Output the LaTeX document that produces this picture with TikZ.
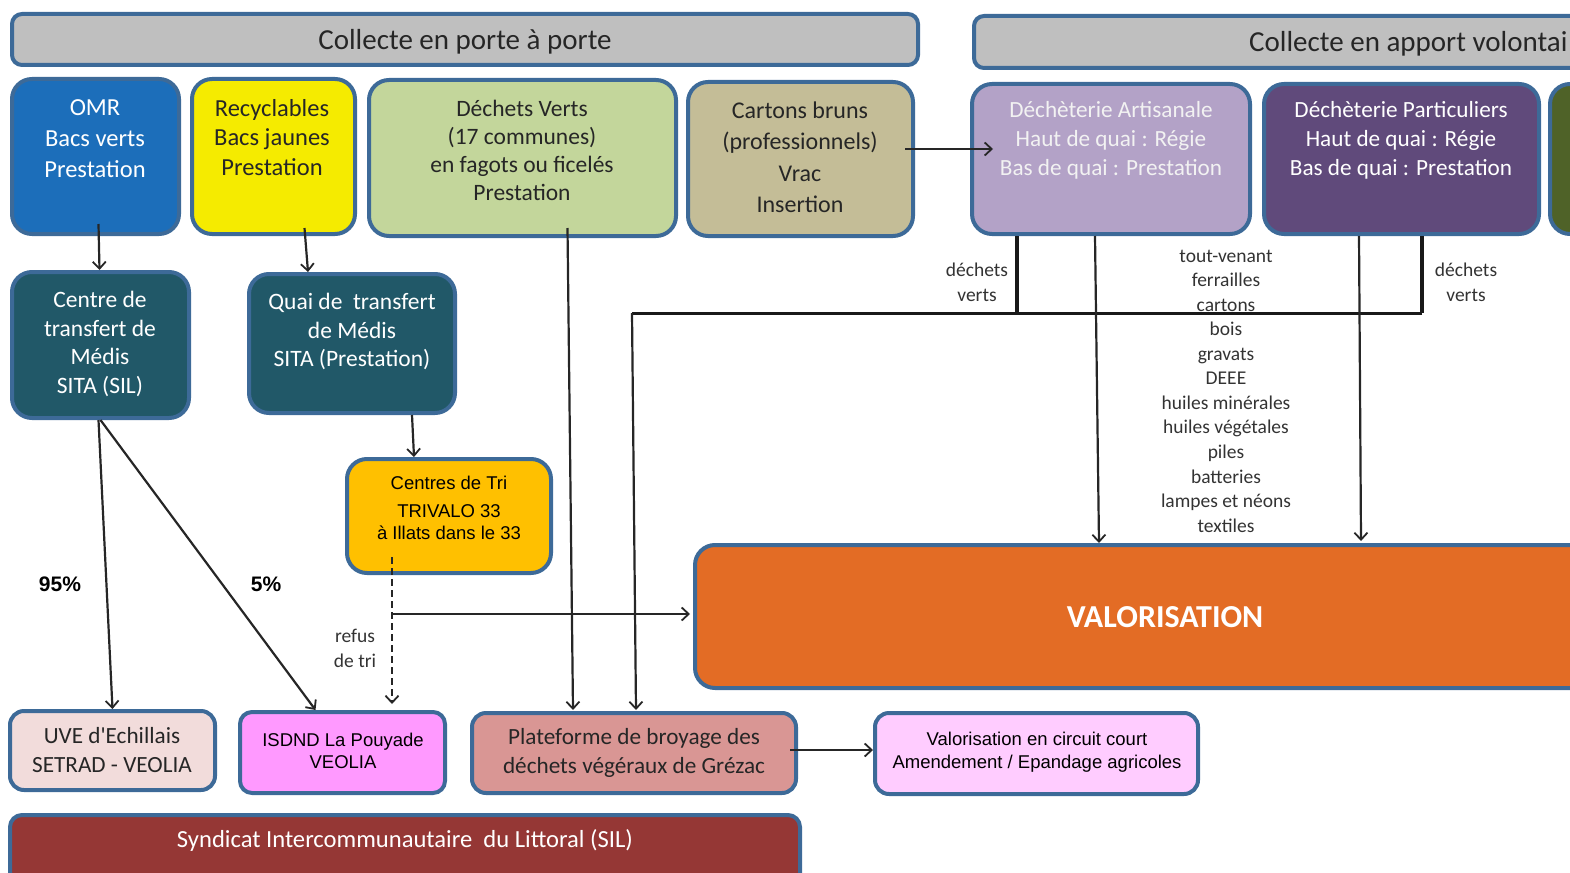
\documentclass[tikz,border=0pt]{standalone}
\usepackage{fontspec}
\setmainfont{Carlito}
\newfontfamily\arialf{Liberation Sans}
\usetikzlibrary{arrows.meta,calc}
\definecolor{bordc}{HTML}{3D6A98}
\definecolor{hgray}{HTML}{BFBFBF}
\definecolor{omrc}{HTML}{1C6EBA}
\definecolor{recc}{HTML}{F5EB00}
\definecolor{dvc}{HTML}{C3D69B}
\definecolor{cartc}{HTML}{C4BD97}
\definecolor{artc}{HTML}{B3A2C7}
\definecolor{partc}{HTML}{604A7B}
\definecolor{olivec}{HTML}{4F6228}
\definecolor{tealc}{HTML}{215868}
\definecolor{tric}{HTML}{FFC000}
\definecolor{valoc}{HTML}{E36C25}
\definecolor{uvec}{HTML}{F2DCDB}
\definecolor{isdc}{HTML}{FF99FF}
\definecolor{platc}{HTML}{D99694}
\definecolor{vccc}{HTML}{FFCCFF}
\definecolor{sync}{HTML}{953735}
\definecolor{darkt}{HTML}{262626}
\definecolor{listc}{HTML}{333333}
\tikzset{
  box/.style={draw=bordc, line width=4pt, rounded corners=20pt, inner sep=0pt},
  txt/.style={align=center, inner sep=0pt, font=\fontsize{23.2}{29}\selectfont},
  arr/.style={-{Straight Barb[length=7pt,width=13pt,line width=1.8pt]}, line width=2.2pt, draw=black!85},
  small/.style={align=center, inner sep=0pt, font=\fontsize{19.5}{24.5}\selectfont, text=listc},
  arialtxt/.style={align=center, inner sep=0pt, font=\arialf\fontsize{18.5}{22}\selectfont, text=black},
  pct/.style={inner sep=0pt, font=\arialf\bfseries\fontsize{21}{25}\selectfont, text=black},
}
\begin{document}
\begin{tikzpicture}[x=1pt,y=-1pt]
\useasboundingbox (0,0) rectangle (1570,872);
\clip (0,0) rectangle (1570,872);
% headers
\node[box, fill=hgray, minimum width=906pt, minimum height=51pt, rounded corners=10pt] (h1) at (465,39.5) {};
\node[box, fill=hgray, minimum width=640pt, minimum height=52pt, rounded corners=10pt] (h2) at (1294,42) {};
% top row
\node[box, fill=omrc, minimum width=167pt, minimum height=155pt] (omr) at (95.5,156.5) {};
\node[box, fill=recc, minimum width=163pt, minimum height=155pt] (rec) at (273.5,156.5) {};
\node[box, fill=dvc, minimum width=307pt, minimum height=156pt] (dv) at (522.5,158) {};
\node[box, fill=cartc, minimum width=225pt, minimum height=154pt] (cart) at (800.5,159) {};
\node[box, fill=artc, minimum width=278pt, minimum height=150pt] (art) at (1111,159) {};
\node[box, fill=partc, minimum width=275pt, minimum height=150pt] (part) at (1401.5,159) {};
\node[box, fill=olivec, minimum width=80pt, minimum height=150pt] (olive) at (1590,159) {};
% second row
\node[box, fill=tealc, minimum width=177pt, minimum height=146pt] (ctm) at (100.5,345) {};
\node[box, fill=tealc, minimum width=206pt, minimum height=139pt] (quai) at (352,343.5) {};
\node[box, fill=tric, minimum width=204pt, minimum height=114pt] (tri) at (449,516) {};
\node[box, fill=valoc, minimum width=925pt, minimum height=143pt] (valo) at (1157.5,616.5) {};
% bottom row
\node[box, fill=uvec, minimum width=205pt, minimum height=79pt, rounded corners=14pt] (uve) at (112.5,750.5) {};
\node[box, fill=isdc, minimum width=205pt, minimum height=81pt, rounded corners=12pt] (isd) at (342.5,752.5) {};
\node[box, fill=platc, minimum width=324pt, minimum height=80pt, rounded corners=14pt] (plat) at (634,753) {};
\node[box, fill=vccc, minimum width=323pt, minimum height=81pt, rounded corners=14pt] (vcc) at (1036.5,753.5) {};
\node[box, fill=sync, minimum width=790pt, minimum height=85pt, rounded corners=12pt] (syn) at (405,857.5) {};
% connectors
\draw[arr] ($(omr.south)+(3,-12)$) -- ($(ctm.north)+(-1,0)$);
\draw[arr] ($(rec.south)+(31,-8)$) -- ($(quai.north)+(-44,0)$);
\draw[arr] ($(quai.south)+(60,0)$) -- ($(tri.north)+(-35,0)$);
\draw[arr] ($(ctm.south)+(-2,0)$) -- (uve.north);
\draw[arr] (ctm.south) -- ($(isd.north)+(-27,0)$);
\draw[arr, dashed, dash pattern=on 7pt off 4pt] ($(tri.south)+(-57,-18)$) -- ($(isd.north)+(49.5,-6)$);
\coordinate (tj) at ($(tri.south)+(-57,39)$);
\draw[arr] (tj) -- ($(valo.west |- tj)+(-3,0)$);
\draw[arr] ($(dv.south)+(45,-10)$) -- ($(plat.north)+(-61,-1)$);
\coordinate (bl) at ($(plat.north)+(-2,-398)$);
\coordinate (br) at ($(part.south)+(20.5,77)$);
\draw[line width=3.5pt, draw=black!90] ($(art.south)+(-94,0)$) -- ($(art.south)+(-94,77)$);
\draw[line width=3.5pt, draw=black!90] ($(part.south)+(20.5,0)$) -- (br);
\draw[line width=3pt, draw=black!90] (br) -- (bl);
\draw[arr] (bl) -- ($(plat.north)+(2,-1)$);
\draw[arr] ($(art.south)+(-16,0)$) -- ($(valo.north)+(-58.5,0)$);
\draw[arr] ($(part.south)+(-42.5,0)$) -- ($(valo.north)+(203.5,-2)$);
\draw[arr] ($(cart.east)+(-10,-10)$) -- ($(art.west)+(23,-10)$);
\draw[arr] ($(plat.east)+(-8,-3)$) -- ($(vcc.west)+(0,-3.5)$);
% texts
\node[txt, text=darkt, font=\fontsize{29}{34}\selectfont] (h1t) at (465,42) {Collecte en porte à porte};
\node[txt, text=darkt, font=\fontsize{29}{34}\selectfont, anchor=west] (h2t) at (1249,44) {Collecte en apport volontai};
\node[txt, text=white, font=\fontsize{24.5}{31}\selectfont] (omrt) at (95,139) {OMR\\Bacs verts\\Prestation};
\node[txt, text=darkt, font=\fontsize{24.5}{29.5}\selectfont] (rect) at (272,137.5) {Recyclables\\Bacs jaunes\\Prestation};
\node[txt, text=darkt, font=\fontsize{23.5}{28}\selectfont] (dvt) at (522,150) {Déchets Verts\\(17 communes)\\en fagots ou ficelés\\Prestation};
\node[txt, text=darkt, font=\fontsize{24}{31.5}\selectfont] (cartt) at (800,157.5) {Cartons bruns\\(professionnels)\\Vrac\\Insertion};
\node[txt, text=white!95!black] (artt) at (1111,140.5) {Déchèterie Artisanale\\Haut de quai : Régie\\Bas de quai : Prestation};
\node[txt, text=white] (partt) at (1401,140.5) {Déchèterie Particuliers\\Haut de quai : Régie\\Bas de quai : Prestation};
\node[txt, text=white, font=\fontsize{23.5}{28.7}\selectfont] (ctmt) at (100,344) {Centre de\\transfert de\\Médis\\SITA (SIL)};
\node[txt, text=white, font=\fontsize{23.5}{28.5}\selectfont] (quait) at (352,331.5) {Quai de\ \ transfert\\de Médis\\SITA (Prestation)};
\node[arialtxt] (trit) at (449,508) {Centres de Tri\\[6pt]TRIVALO 33\\à Illats dans le 33};
\node[txt, text=white, font=\bfseries\fontsize{32}{36}\selectfont] (valot) at (1165,617) {VALORISATION};
\node[txt, text=darkt] (uvet) at (112,750.5) {UVE d\textquotesingle Echillais\\SETRAD - VEOLIA};
\node[arialtxt] (isdt) at (343,751) {ISDND La Pouyade\\VEOLIA};
\node[txt, text=darkt] (platt) at (634,752.5) {Plateforme de broyage des\\déchets végéraux de Grézac};
\node[arialtxt, font=\arialf\fontsize{18.5}{23}\selectfont] (vcct) at (1037,752.5) {Valorisation en circuit court\\Amendement / Epandage agricoles};
\node[txt, text=white, font=\fontsize{24.6}{29}\selectfont] (synt) at (405,840) {Syndicat Intercommunautaire\ \ du Littoral (SIL)};
\node[pct] (p95) at (60,584) {95\%};
\node[pct] (p5) at (266,584) {5\%};
\node[small] (refus) at (355,648.5) {refus\\de tri};
\node[small] (dvl1) at (977,282.5) {déchets\\verts};
\node[small] (dvl2) at (1466,282.5) {déchets\\verts};
\node[small, font=\fontsize{19.5}{24.55}\selectfont] (list) at (1226,391) {tout-venant\\ferrailles\\cartons\\bois\\gravats\\DEEE\\huiles minérales\\huiles végétales\\piles\\batteries\\lampes et néons\\textiles};
\end{tikzpicture}
\end{document}
